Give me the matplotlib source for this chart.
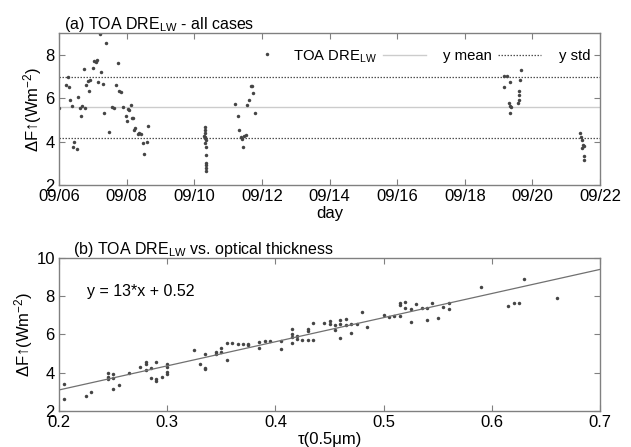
import numpy as np
import matplotlib
matplotlib.use('Agg')
import matplotlib.pyplot as plt
from matplotlib.lines import Line2D

plt.rcParams['font.family'] = ['Liberation Sans', 'DejaVu Sans']
plt.rcParams['font.size'] = 10
plt.rcParams['mathtext.fontset'] = 'custom'
plt.rcParams['mathtext.rm'] = 'Liberation Sans'
plt.rcParams['mathtext.it'] = 'Liberation Sans'

# panel (a): days since 09/06 and TOA DRE_LW
day = [0.0, 0.21, 0.26, 0.30, 0.33, 0.38, 0.42, 0.45, 0.52, 0.56, 0.62, 0.65, 0.69, 0.73,
       0.77, 0.80, 0.85, 0.89, 0.92, 1.01, 1.04, 1.08, 1.11, 1.16, 1.20, 1.24, 1.29, 1.33,
       1.38, 1.48, 1.57, 1.63, 1.70, 1.74, 1.78, 1.83, 1.89, 1.97, 2.00, 2.05, 2.08, 2.12,
       2.16, 2.20, 2.23, 2.26, 2.33, 2.37, 2.43, 2.48, 2.52, 2.60, 2.63,
       4.31, 4.32, 4.31, 4.30, 4.33, 4.32, 4.34, 4.33, 4.35, 4.35, 4.36, 4.36, 4.35, 4.36,
       5.19, 5.29, 5.33, 5.38, 5.42, 5.45, 5.48, 5.52, 5.55, 5.63, 5.68, 5.72, 5.75, 5.80, 6.15,
       13.17, 13.24, 13.17, 13.34, 13.32, 13.34, 13.36, 13.34, 13.56, 13.59, 13.61, 13.64,
       13.67, 13.59,
       15.41, 15.44, 15.46, 15.49, 15.53, 15.48, 15.51, 15.51]
dre = [5.53, 6.60, 7.00, 6.53, 5.92, 5.64, 3.77, 4.00, 3.66, 6.07, 5.53, 5.18, 5.64, 7.35,
       5.53, 6.60, 6.80, 6.33, 6.84, 7.40, 7.71, 7.65, 7.76, 6.76, 8.96, 7.22, 6.64, 5.30,
       8.53, 4.46, 5.58, 5.53, 6.60, 7.60, 6.35, 6.30, 5.61, 5.18, 4.96, 5.50, 5.46, 5.69,
       5.07, 5.10, 4.53, 4.61, 4.35, 4.38, 4.34, 3.95, 3.41, 4.00, 4.73,
       4.69, 4.53, 4.38, 4.26, 4.20, 4.15, 4.07, 3.95, 3.76, 3.38, 3.00, 2.92, 2.77, 2.65,
       5.72, 5.18, 4.53, 4.20, 4.11, 3.77, 4.26, 4.30, 5.67, 5.92, 6.57, 6.57, 6.25, 5.33, 8.02,
       7.02, 7.02, 6.53, 6.73, 5.76, 5.64, 5.58, 5.30, 5.79, 6.15, 6.35, 6.84, 7.30, 5.92,
       4.41, 4.23, 4.07, 3.84, 3.80, 3.69, 3.34, 3.15]
y_mean = 5.58
y_std = [7.00, 4.15]
day_ticks = [0, 2, 4, 6, 8, 10, 12, 14, 16]
day_labels = ['09/06', '09/08', '09/10', '09/12', '09/14', '09/16', '09/18', '09/20', '09/22']

# panel (b): optical thickness vs TOA DRE_LW
tau = [0.205, 0.205, 0.225, 0.230, 0.245, 0.245, 0.245, 0.250, 0.250, 0.250, 0.255, 0.265,
       0.275, 0.280, 0.280, 0.280, 0.285, 0.285, 0.290, 0.290, 0.290, 0.295, 0.300, 0.300,
       0.300, 0.300, 0.325, 0.330, 0.335, 0.335, 0.335, 0.345, 0.345, 0.350, 0.350, 0.355,
       0.355, 0.360, 0.365, 0.370, 0.375, 0.375, 0.385, 0.385, 0.390, 0.395, 0.405, 0.405,
       0.415, 0.415, 0.415, 0.415, 0.420, 0.420, 0.425, 0.430, 0.430, 0.430, 0.435, 0.435,
       0.445, 0.450, 0.450, 0.455, 0.455, 0.460, 0.460, 0.460, 0.465, 0.465, 0.470, 0.470,
       0.475, 0.480, 0.485, 0.500, 0.505, 0.510, 0.515, 0.515, 0.515, 0.520, 0.520, 0.525,
       0.525, 0.530, 0.535, 0.540, 0.540, 0.545, 0.550, 0.555, 0.560, 0.560,
       0.590, 0.615, 0.620, 0.625, 0.630, 0.660]
dre_b = [3.40, 2.63, 2.80, 2.98, 3.97, 3.80, 3.67, 3.92, 3.74, 3.13, 3.36, 4.00,
         4.32, 4.55, 4.44, 4.13, 4.23, 3.74, 4.55, 3.69, 3.59, 3.79, 4.44, 4.32,
         4.05, 3.93, 5.19, 4.47, 4.96, 4.27, 4.20, 5.10, 5.00, 5.28, 5.10, 5.57,
         4.67, 5.54, 5.50, 5.50, 5.48, 5.43, 5.59, 5.31, 5.66, 5.66, 5.66, 5.26,
         6.29, 6.05, 5.85, 5.55, 5.90, 5.75, 5.71, 6.29, 6.18, 5.69, 6.58, 5.73,
         6.58, 6.71, 6.56, 6.50, 6.24, 6.74, 6.55, 5.80, 6.79, 6.50, 6.55, 6.10,
         6.55, 7.16, 6.38, 7.02, 6.93, 6.98, 6.98, 7.66, 7.54, 7.72, 7.37, 7.32,
         6.67, 7.59, 7.37, 7.40, 6.73, 7.63, 6.85, 7.45, 7.66, 7.32,
         8.48, 7.49, 7.66, 7.66, 8.90, 7.91]
fit_slope = 12.6
fit_intercept = 0.58

dot_clr = '#454545'
spine_clr = '#808080'
fs_tick = 12
fs_text = 11.5

fig = plt.figure(figsize=(6.31, 4.47), dpi=100)
ax1 = fig.add_axes([0.0935, 0.586, 0.8575, 0.340])
ax2 = fig.add_axes([0.0935, 0.0805, 0.8575, 0.3425])

for ax in (ax1, ax2):
    for sp in ax.spines.values():
        sp.set_color(spine_clr)
        sp.set_linewidth(1.0)
    ax.tick_params(direction='in', top=True, right=True, length=4, width=0.8,
                   color=spine_clr, labelsize=fs_tick, pad=3)

# (a)
ax1.axhline(y_mean, color='#cccccc', lw=1.0)
for s in y_std:
    ax1.axhline(s, color='#505050', lw=0.9, ls=(0, (1.2, 1.2)))
ax1.plot(day, dre, 'o', ms=2.5, color=dot_clr, mec='none')
ax1.set_xlim(0, 16)
ax1.set_ylim(2, 9)
ax1.set_xticks(day_ticks)
ax1.set_xticklabels(day_labels)
ax1.set_yticks([2, 4, 6, 8])
ax1.set_xlabel('day', fontsize=fs_tick, labelpad=1)
ax1.set_ylabel('ΔF↑(Wm$^{-2}$)', fontsize=fs_tick, labelpad=1)
ax1.set_title('(a) TOA DRE$_{\\mathrm{LW}}$ - all cases', loc='left', fontsize=fs_text, pad=3, x=0.01)

handles = [Line2D([], [], color='#cccccc', lw=1.0),
           Line2D([], [], color='#505050', lw=0.9, ls=(0, (1.2, 1.2))),
           Line2D([], [], color='none')]
ax1.legend(handles, ['TOA DRE$_{\\mathrm{LW}}$', 'y mean', 'y std'], ncol=3, markerfirst=False,
           frameon=False, loc='center left', bbox_to_anchor=(0.4325, 0.845), fontsize=10.7,
           borderpad=0, borderaxespad=0, handlelength=2.9, handletextpad=0.42,
           columnspacing=1.15)

# (b)
ax2.plot(tau, dre_b, 'o', ms=2.5, color=dot_clr, mec='none')
xl = np.array([0.2, 0.7])
ax2.plot(xl, fit_slope * xl + fit_intercept, color='#707070', lw=0.9)
ax2.text(0.2256, 8.24, 'y = 13*x + 0.52', fontsize=fs_text, va='center')
ax2.set_xlim(0.2, 0.7)
ax2.set_ylim(2, 10)
ax2.set_xticks([0.2, 0.3, 0.4, 0.5, 0.6, 0.7])
ax2.set_yticks([2, 4, 6, 8, 10])
ax2.set_xlabel('τ(0.5μm)', fontsize=fs_tick, labelpad=1)
ax2.set_ylabel('ΔF↑(Wm$^{-2}$)', fontsize=fs_tick, labelpad=1)
ax2.set_title('(b) TOA DRE$_{\\mathrm{LW}}$ vs. optical thickness', loc='left', fontsize=fs_text,
              pad=3, x=0.025)

plt.savefig('out.png', dpi=100)
